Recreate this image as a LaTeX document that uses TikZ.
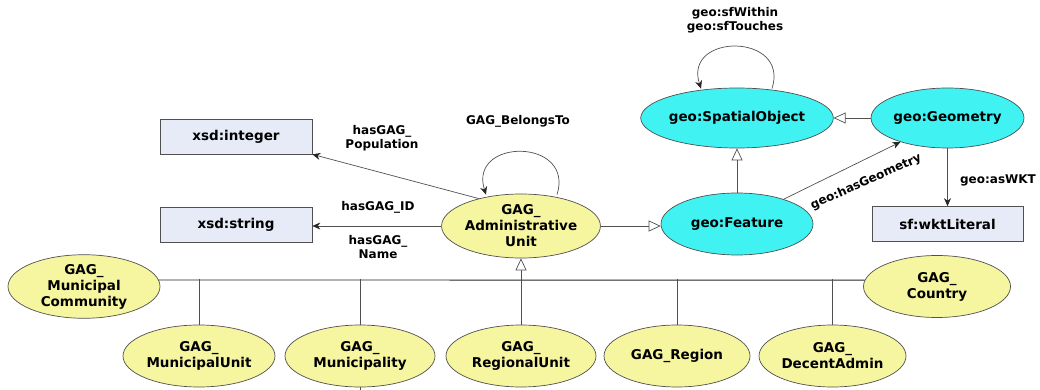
\documentclass[tikz,border=0pt]{standalone}
\usepackage{fontspec}
\setmainfont{DejaVu Sans}
\usetikzlibrary{arrows.meta,shapes.geometric}
\definecolor{yel}{HTML}{F6F5A0}
\definecolor{cyn}{HTML}{40F2F2}
\definecolor{boxfill}{HTML}{E7EBF7}
\definecolor{edgec}{HTML}{505050}
\begin{document}
\begin{tikzpicture}[x=1pt,y=-1pt,
  nodefont/.style={font=\fontsize{13.5}{16}\selectfont\bfseries},
  lblfont/.style={font=\fontsize{12}{14.5}\selectfont\bfseries},
  yelnode/.style={ellipse,draw=edgec,fill=yel,line width=0.7pt,minimum width=152pt,minimum height=62pt,inner sep=0pt,align=center,nodefont},
  cynode/.style={ellipse,draw=edgec,fill=cyn,line width=0.7pt,minimum width=152pt,minimum height=60pt,inner sep=0pt,align=center,nodefont},
  litbox/.style={rectangle,draw=edgec,fill=boxfill,line width=0.7pt,minimum width=152pt,minimum height=35pt,inner sep=0pt,nodefont},
  lbl/.style={align=center,lblfont,inner sep=1pt},
  prop/.style={draw=edgec,line width=0.7pt,-{Stealth[length=8pt,width=7pt,color=black!85]}},
  subcl/.style={draw=edgec,line width=0.7pt,-{Triangle[open,length=12pt,width=11pt,fill=white]}},
  link/.style={draw=edgec,line width=0.7pt},
  bus/.style={draw=black!85,line width=0.9pt}]
\useasboundingbox (0,0) rectangle (1040,390);

% literal boxes
\node[litbox] (int) at (236,136.5) {xsd:integer};
\node[litbox] (str) at (236,224.5) {xsd:string};
\node[litbox,minimum width=151pt] (wkt) at (947.5,224) {sf:wktLiteral};

% main classes
\node[yelnode,minimum width=151pt,minimum height=64pt] (adm) at (521,226) {GAG\_\\Administrative\\Unit};
\node[cynode,minimum height=62pt] (feat) at (737,224) {geo:Feature};
\node[cynode] (spo) at (737,118) {geo:SpatialObject};
\node[cynode,minimum width=151pt] (geom) at (947.5,118) {geo:Geometry};

% subclasses
\node[yelnode,minimum height=63pt] (mc) at (84,286.5) {GAG\_\\Municipal\\Community};
\node[yelnode] (mu) at (199,356) {GAG\_\\MunicipalUnit};
\node[yelnode,minimum width=150pt] (mun) at (360,356) {GAG\_\\Municipality};
\node[yelnode,minimum width=150pt] (ru) at (521,356) {GAG\_\\RegionalUnit};
\node[yelnode,minimum width=146pt] (reg) at (677,356) {GAG\_Region};
\node[yelnode,minimum width=147pt] (dec) at (832.5,356) {GAG\_\\DecentAdmin};
\node[yelnode,minimum width=147pt] (cty) at (937,286.5) {GAG\_\\Country};

% labels
\node[lbl] (lpop) at (382,138) {hasGAG\_\\Population};
\node[lbl] (lid) at (378,207) {hasGAG\_ID};
\node[lbl] (lname) at (378,247) {hasGAG\_\\Name};
\node[lbl] (lbel) at (518,121) {GAG\_BelongsTo};
\node[lbl] (lsf) at (735,20) {geo:sfWithin\\geo:sfTouches};
\node[lbl] (lwkt) at (998,180) {geo:asWKT};
\node[lbl,rotate=24] (lhg) at (866,182) {geo:hasGeometry};

% object properties
\draw[prop] (adm.147) -- (int.south east);
\draw[prop] (adm.west) -- (adm.west -| str.east);
\draw[prop] ([xshift=36pt,yshift=-1pt]adm.north) .. controls +(18,-57) and +(-18,-57) .. ([xshift=-35pt,yshift=-1pt]adm.north);
\draw[prop] ([xshift=35pt,yshift=-1pt]spo.north) .. controls +(18,-56) and +(-18,-56) .. ([xshift=-36pt,yshift=-1pt]spo.north);
\draw[prop] (feat.28) -- (geom.207);
\draw[prop] (geom.south) -- (wkt.north);

% subclass relations
\draw[subcl] (adm.east) -- (adm.east -| feat.west);
\draw[subcl] (feat.north) -- (spo.south);
\draw[subcl] (geom.west) -- (spo.east);

% hierarchy bus
\coordinate (bus) at (521,279);
\coordinate (stub) at (360,390);
\draw[bus] (mc.5) -- (cty.175);
\draw[link] (mu.north) -- (mu.north |- bus);
\draw[link] (mun.north) -- (mun.north |- bus);
\draw[link] (reg.north) -- (reg.north |- bus);
\draw[link] (dec.north) -- (dec.north |- bus);
\draw[subcl] (ru.north) -- (adm.south);
\draw[link] (mun.south) -- (stub);
\end{tikzpicture}
\end{document}
